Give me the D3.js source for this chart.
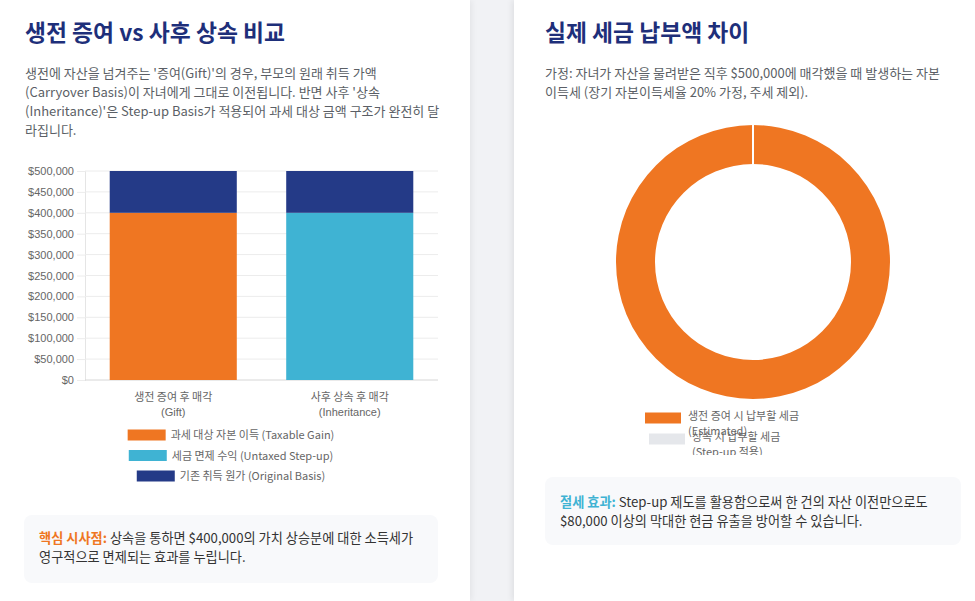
<!DOCTYPE html>
<html>
<head>
<meta charset="utf-8">
<script src="https://cdn.jsdelivr.net/npm/d3@7"></script>
<style>
  body { margin: 0; width: 975px; height: 601px; overflow: hidden; background: #f1f2f5;
         font-family: "Noto Sans CJK KR", "Noto Sans", sans-serif; position: relative; }
  .card { position: absolute; top: 0; height: 601px; background: #fff; }
  #left { left: 0; width: 470px; box-shadow: 2px 0 6px rgba(0,0,0,0.06); }
  #right { left: 514px; width: 461px; box-shadow: -2px 0 6px rgba(0,0,0,0.08); }
  h2 { position: absolute; margin: 0; font-size: 22.8px; font-weight: 700; color: #1e2f7a; white-space: nowrap; }
  p.desc { position: absolute; margin: 0; font-size: 13px; line-height: 19px; color: #5b5f66; white-space: nowrap; }
  .note { position: absolute; background: #f8f9fb; border-radius: 8px; font-size: 13.2px; line-height: 19px;
          color: #333; box-sizing: border-box; white-space: nowrap; }
  svg { position: absolute; left: 0; top: 0; }
</style>
</head>
<body>
<div class="card" id="left">
  <h2 style="left:25px; top:15px;">생전 증여 vs 사후 상속 비교</h2>
  <p class="desc" style="left:25px; top:63px;">생전에 자산을 넘겨주는 '증여(Gift)'의 경우, 부모의 원래 취득 가액<br>(Carryover Basis)이 자녀에게 그대로 이전됩니다. 반면 사후 '상속<br>(Inheritance)'은 Step-up Basis가 적용되어 과세 대상 금액 구조가 완전히 달<br>라집니다.</p>
  <div class="note" style="left:24px; top:515px; width:414px; height:68px; padding:13px 0 0 15px;">
    <b style="color:#ef7622;">핵심 시사점:</b> 상속을 통하면 $400,000의 가치 상승분에 대한 소득세가<br>영구적으로 면제되는 효과를 누립니다.</div>
</div>
<div class="card" id="right">
  <h2 style="left:31px; top:15px;">실제 세금 납부액 차이</h2>
  <p class="desc" style="left:31px; top:63px;">가정: 자녀가 자산을 물려받은 직후 $500,000에 매각했을 때 발생하는 자본<br>이득세 (장기 자본이득세율 20% 가정, 주세 제외).</p>
  <div class="note" style="left:31px; top:477px; width:416px; height:68px; padding:15px 0 0 15px;">
    <b style="color:#3fb3d3;">절세 효과:</b> Step-up 제도를 활용함으로써 한 건의 자산 이전만으로도<br>$80,000 이상의 막대한 현금 유출을 방어할 수 있습니다.</div>
</div>
<svg id="chart" width="975" height="601"></svg>
<script>
// ---------------------------------------------------------------
// Data
const categories = [["생전 증여 후 매각", "(Gift)"], ["사후 상속 후 매각", "(Inheritance)"]];
const seriesNames = ["과세 대상 자본 이득 (Taxable Gain)", "세금 면제 수익 (Untaxed Step-up)", "기존 취득 원가 (Original Basis)"];
const taxableGain = [400000, 0];
const untaxedStepUp = [0, 400000];
const originalBasis = [100000, 100000];
const yTicks = [0, 50000, 100000, 150000, 200000, 250000, 300000, 350000, 400000, 450000, 500000];

const taxLabels = [["생전 증여 시 납부할 세금", "(Estimated)"], ["상속 시 납부할 세금", "(Step-up 적용)"]];
const taxValues = [80000, 0];

const barColors = ["#ef7622", "#3fb3d3", "#243a87"];
const donutColors = ["#ef7622", "#e5e7eb"];

let svg = d3.select("#chart");

// ---------------------------------------------------------------
// Stacked bar chart
let x = d3.scaleBand()
  .domain(d3.range(categories.length))
  .range([85, 438])
  .paddingInner(0.28)
  .paddingOuter(0.14);

let y = d3.scaleLinear()
  .domain([0, 500000])
  .range([380, 171]);

let fmt = d3.format("$,");

let yAxis = d3.axisLeft(y).tickValues(yTicks).tickFormat(fmt).tickSize(8).tickPadding(3);
let gy = svg.append("g")
  .attr("transform", "translate(85,0)")
  .call(yAxis);
gy.select(".domain").attr("stroke", "#e5e5e5");
gy.selectAll(".tick line").attr("stroke", "#ececec");
gy.selectAll(".tick text")
  .attr("fill", "#666")
  .style("font-family", "Liberation Sans, Arial, sans-serif")
  .style("font-size", "11px");

// horizontal grid lines
svg.append("g")
  .selectAll("line")
  .data(yTicks)
  .join("line")
  .attr("x1", 85).attr("x2", 438)
  .attr("y1", d => y(d)).attr("y2", d => y(d))
  .attr("stroke", d => d === 0 ? "#d6d6d6" : "#ececec");

let rows = categories.map((c, i) => ({ i: i, taxable: taxableGain[i], untaxed: untaxedStepUp[i], basis: originalBasis[i] }));
let stack = d3.stack().keys(["taxable", "untaxed", "basis"]);
let layers = stack(rows);

svg.append("g")
  .selectAll("g")
  .data(layers)
  .join("g")
  .attr("fill", (d, i) => barColors[i])
  .selectAll("rect")
  .data(d => d)
  .join("rect")
  .attr("x", d => x(d.data.i))
  .attr("width", x.bandwidth())
  .attr("y", d => y(d[1]))
  .attr("height", d => y(d[0]) - y(d[1]));

// category labels
let catG = svg.append("g")
  .selectAll("text")
  .data(categories)
  .join("text")
  .attr("x", (d, i) => x(i) + x.bandwidth() / 2)
  .attr("y", 401)
  .attr("text-anchor", "middle")
  .attr("fill", "#666")
  .style("font-size", "11px");
catG.selectAll("tspan")
  .data(d => d)
  .join("tspan")
  .attr("x", function () { return this.parentNode.getAttribute("x"); })
  .attr("dy", (d, i) => i === 0 ? 0 : 15)
  .style("font-family", (d, i) => i === 0 ? "Noto Sans CJK KR" : "Liberation Sans, Arial, sans-serif")
  .text(d => d);

// bar legend (each row centred)
let legendCx = 231;
let legend = svg.append("g")
  .selectAll("g")
  .data(seriesNames)
  .join("g")
  .attr("transform", (d, i) => `translate(0,${435 + i * 20.5})`);
legend.append("text")
  .attr("y", 4)
  .attr("fill", "#666")
  .style("font-size", "11px")
  .text(d => d)
  .each(function () {
    let w = this.getComputedTextLength();
    let start = legendCx - (w + 43) / 2;
    d3.select(this).attr("x", start + 43);
    d3.select(this.parentNode).insert("rect", "text")
      .attr("x", start).attr("y", -5.5)
      .attr("width", 38).attr("height", 11);
  });
legend.select("rect").attr("fill", (d, i) => barColors[i]);

// ---------------------------------------------------------------
// Doughnut chart
let cx = 753, cy = 262, rOuter = 137, rInner = 98;
let pie = d3.pie().sort(null).value(d => d);
let arcs = pie(taxValues);
let arc = d3.arc().innerRadius(rInner).outerRadius(rOuter);
let donut = svg.append("g").attr("transform", `translate(${cx},${cy})`);
donut.selectAll("path")
  .data(arcs)
  .join("path")
  .attr("d", arc)
  .attr("fill", (d, i) => donutColors[i]);
// white segment borders at slice boundaries
donut.selectAll("line.sep")
  .data(arcs)
  .join("line")
  .attr("class", "sep")
  .attr("x1", d => Math.sin(d.startAngle) * rInner)
  .attr("y1", d => -Math.cos(d.startAngle) * rInner)
  .attr("x2", d => Math.sin(d.startAngle) * (rOuter + 1))
  .attr("y2", d => -Math.cos(d.startAngle) * (rOuter + 1))
  .attr("stroke", "#fff")
  .attr("stroke-width", 2);

// doughnut legend (clipped like the original)
svg.append("clipPath").attr("id", "lclip")
  .append("rect").attr("x", 600).attr("y", 400).attr("width", 300).attr("height", 55);
let dl = svg.append("g").attr("clip-path", "url(#lclip)")
  .selectAll("g")
  .data(taxLabels)
  .join("g")
  .attr("transform", (d, i) => `translate(${645 + i * 4},${418 + i * 21})`);
dl.append("rect")
  .attr("x", 0).attr("y", -5.5)
  .attr("width", 36).attr("height", 11)
  .attr("fill", (d, i) => donutColors[i]);
let dlt = dl.append("text")
  .attr("x", 43)
  .attr("y", 2)
  .attr("fill", "#666")
  .style("font-size", "11px");
dlt.selectAll("tspan")
  .data(d => d)
  .join("tspan")
  .attr("x", 43)
  .attr("dy", (d, i) => i === 0 ? 0 : 15)
  .text(d => d);
</script>
</body>
</html>
